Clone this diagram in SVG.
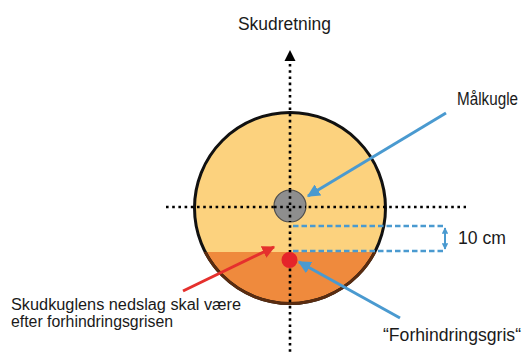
<svg xmlns="http://www.w3.org/2000/svg" width="529" height="356" viewBox="0 0 529 356">
<style>
text{font-family:"Liberation Sans",Arial,sans-serif;fill:#1a1a1a}
.dot{stroke:#000;stroke-width:2.6;stroke-dasharray:2.6 3.6;fill:none}
.blue{stroke:#4a9ad0;stroke-width:3;fill:none}
.bdash{stroke:#4a9ad0;stroke-width:2.5;stroke-dasharray:5.5 3;fill:none}
</style>
<defs>
<clipPath id="lower"><rect x="0" y="252" width="529" height="104"/></clipPath>
<marker id="ab" viewBox="0 0 10 10" refX="9" refY="5" markerWidth="4.3" markerHeight="4.3" orient="auto-start-reverse" markerUnits="strokeWidth"><path d="M0,0 L10,5 L0,10 z" fill="#4a9ad0"/></marker>
<marker id="ab2" viewBox="0 0 10 10" refX="9" refY="5" markerWidth="3.2" markerHeight="3.2" orient="auto-start-reverse" markerUnits="strokeWidth"><path d="M0,0 L10,5 L0,10 z" fill="#4a9ad0"/></marker>
<marker id="ar" viewBox="0 0 10 10" refX="9" refY="5" markerWidth="4.3" markerHeight="4.3" orient="auto" markerUnits="strokeWidth"><path d="M0,0 L10,5 L0,10 z" fill="#e5302d"/></marker>
</defs>
<g id="target">
<circle cx="290" cy="208" r="95.5" fill="#fcd27e"/>
<circle cx="290" cy="208" r="95.5" fill="#ef8a3d" clip-path="url(#lower)"/>
<circle cx="290" cy="208" r="95.5" fill="none" stroke="#111" stroke-width="3"/>
<circle cx="290" cy="208" r="95.5" fill="none" stroke="#5a2c10" stroke-width="3" clip-path="url(#lower)"/>
</g>
<g id="connectors">
<line class="dot" x1="166" y1="207" x2="466" y2="207"/>
<line class="dot" x1="290" y1="64" x2="290" y2="353"/>
<path d="M290,50 L284.5,61 L295.5,61 z" fill="#000"/>
<line class="bdash" x1="293" y1="226" x2="446" y2="226"/>
<line class="bdash" x1="293" y1="251" x2="446" y2="251"/>
<line x1="445" y1="228" x2="445" y2="249" stroke="#4a9ad0" stroke-width="2" marker-start="url(#ab2)" marker-end="url(#ab2)"/>
<line class="blue" x1="446" y1="113" x2="308" y2="196" marker-end="url(#ab)"/>
<line class="blue" x1="400" y1="318" x2="299" y2="262" marker-end="url(#ab)"/>
<line x1="183" y1="291" x2="274" y2="247" stroke="#e5302d" stroke-width="3" marker-end="url(#ar)"/>
</g>
<g id="malkugle">
<circle cx="290" cy="206" r="16" fill="#8e8e8e" stroke="#4d4d4d" stroke-width="1.2"/>
<line class="dot" x1="274" y1="207" x2="306" y2="207"/>
<line class="dot" x1="290" y1="190" x2="290" y2="222"/>
</g>
<g id="gris">
<circle cx="289.5" cy="260" r="8" fill="#e5242a"/>
</g>
<g id="labels">
<text x="238" y="30" font-size="18" textLength="93" lengthAdjust="spacingAndGlyphs">Skudretning</text>
<text x="457" y="105" font-size="17.5" textLength="61" lengthAdjust="spacingAndGlyphs">Målkugle</text>
<text x="458" y="244" font-size="17.5" textLength="48" lengthAdjust="spacingAndGlyphs">10 cm</text>
<text x="383" y="341" font-size="18" textLength="138" lengthAdjust="spacingAndGlyphs">“Forhindringsgris“</text>
<text x="11" y="310" font-size="16" textLength="230" lengthAdjust="spacingAndGlyphs">Skudkuglens nedslag skal være</text>
<text x="11" y="327" font-size="16" textLength="162" lengthAdjust="spacingAndGlyphs">efter forhindringsgrisen</text>
</g>
</svg>
